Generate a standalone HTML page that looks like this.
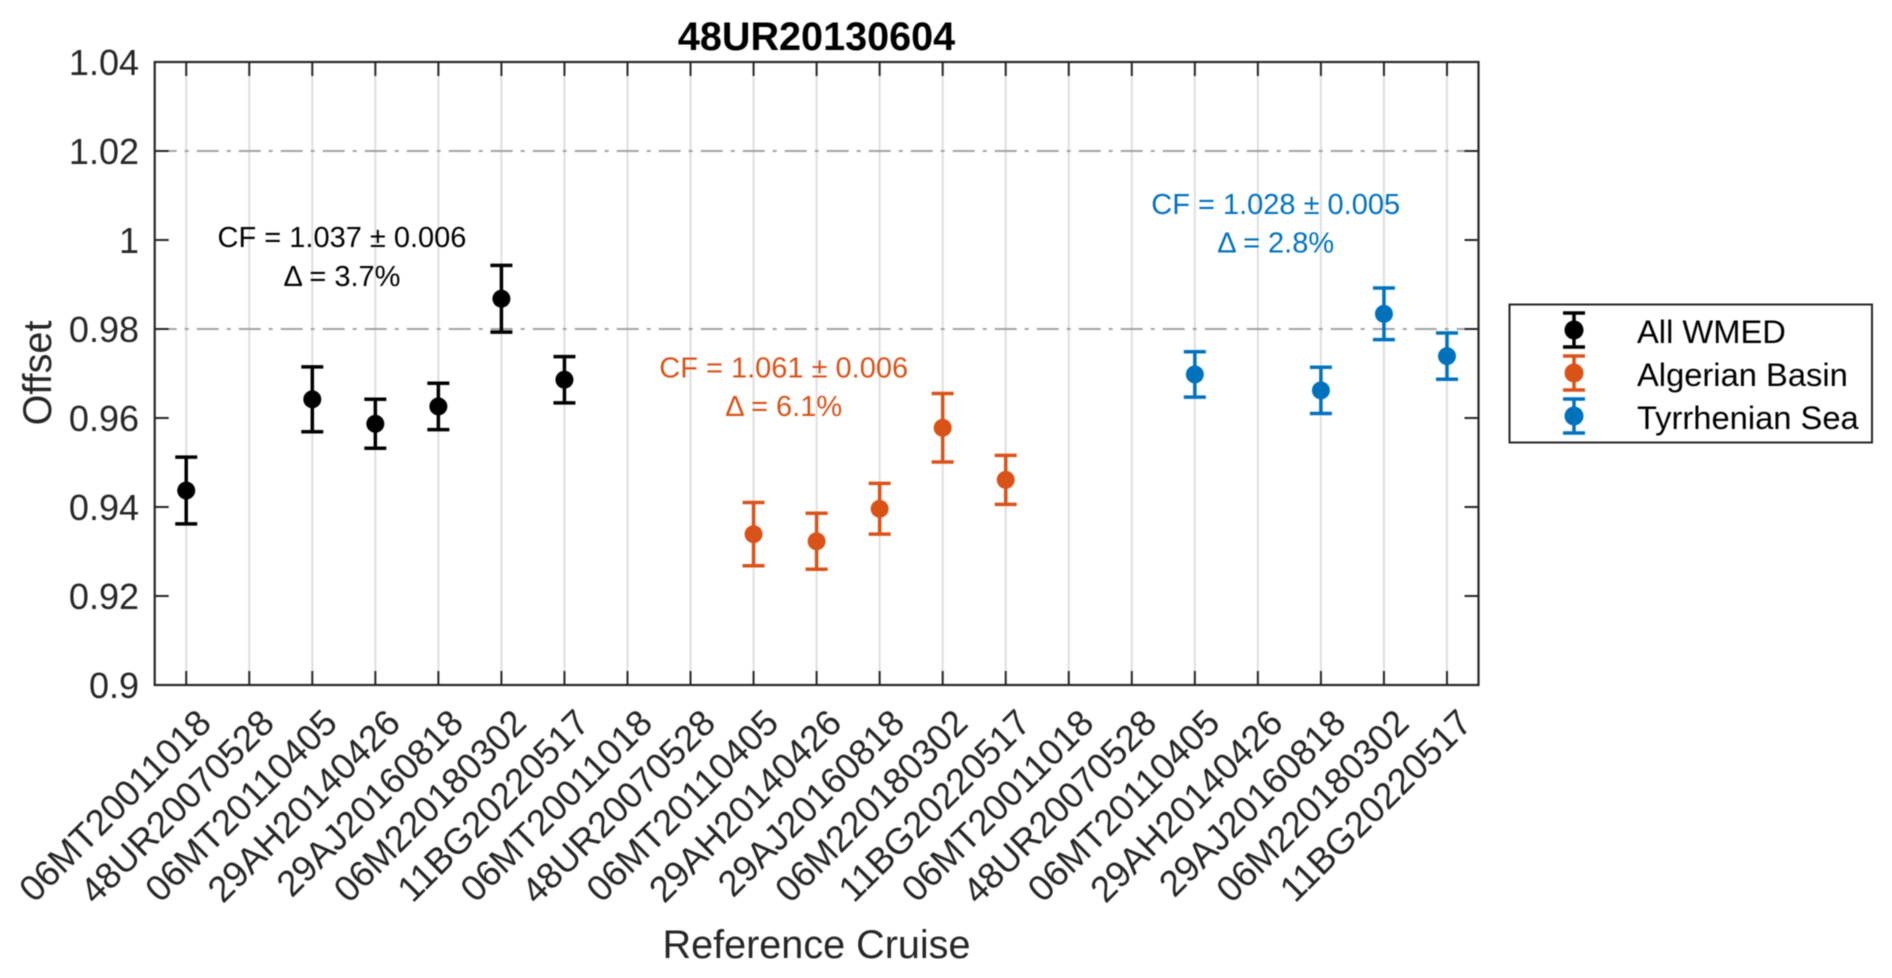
<!DOCTYPE html>
<html lang="en">
<head>
<meta charset="utf-8">
<title>48UR20130604</title>
<style>
html,body{margin:0;padding:0;background:#fff;width:1892px;height:978px;overflow:hidden}
svg{display:block;font-family:"Liberation Sans",Arial,sans-serif;filter:blur(0.5px)}
</style>
</head>
<body>
<svg id="chart" width="1892" height="978" viewBox="0 0 1892 978" xmlns="http://www.w3.org/2000/svg"></svg>
<script>
const categories = ["06MT20011018","48UR20070528","06MT20110405","29AH20140426","29AJ20160818","06M220180302","11BG20220517","06MT20011018","48UR20070528","06MT20110405","29AH20140426","29AJ20160818","06M220180302","11BG20220517","06MT20011018","48UR20070528","06MT20110405","29AH20140426","29AJ20160818","06M220180302","11BG20220517"];
const yTicks = [0.9,0.92,0.94,0.96,0.98,1,1.02,1.04];
const yTickLabels = ["0.9","0.92","0.94","0.96","0.98","1","1.02","1.04"];
const referenceLines = [0.98,1.02];
const allWmedValues = [0.9437,null,0.9642,0.9587,0.9626,0.9868,0.9686,null,null,null,null,null,null,null,null,null,null,null,null,null,null];
const allWmedErrors = [0.0075,null,0.0073,0.0055,0.0052,0.0075,0.0052,null,null,null,null,null,null,null,null,null,null,null,null,null,null];
const algerianValues = [null,null,null,null,null,null,null,null,null,0.9339,0.9323,0.9396,0.9578,0.9461,null,null,null,null,null,null,null];
const algerianErrors = [null,null,null,null,null,null,null,null,null,0.0071,0.0063,0.0057,0.0077,0.0055,null,null,null,null,null,null,null];
const tyrrhenianValues = [null,null,null,null,null,null,null,null,null,null,null,null,null,null,null,null,0.9698,null,0.9662,0.9834,0.9739];
const tyrrhenianErrors = [null,null,null,null,null,null,null,null,null,null,null,null,null,null,null,null,0.0051,null,0.0052,0.0058,0.0052];

const NS = "http://www.w3.org/2000/svg";
const svg = document.getElementById("chart");
const plot = {left:154.7, right:1478.5, top:62, bottom:685};
const yMin = 0.9, yMax = 1.04;
const INK = "#262626", ORANGE = "#D95319", BLUE = "#0072BD";

function xScale(i){ return plot.left + (i + 0.5) / categories.length * (plot.right - plot.left); }
function yScale(v){ return plot.bottom - (v - yMin) / (yMax - yMin) * (plot.bottom - plot.top); }

function mk(tag, attrs, parent){
  const el = document.createElementNS(NS, tag);
  for (const k in attrs) el.setAttribute(k, attrs[k]);
  (parent || svg).appendChild(el);
  return el;
}
function line(x1, y1, x2, y2, stroke, width, parent){
  return mk("line", {x1:x1, y1:y1, x2:x2, y2:y2, stroke:stroke, "stroke-width":width}, parent);
}
function label(str, x, y, size, fill, anchor, parent){
  const t = mk("text", {x:x, y:y, "font-size":size, fill:fill, "text-anchor":anchor}, parent);
  t.textContent = str;
  return t;
}

/* plot background */
const bg = mk("rect", {x:plot.left, y:plot.top, width:plot.right-plot.left, height:plot.bottom-plot.top, fill:"#fff"});



/* vertical grid */
categories.forEach(function(c, i){
  const g = line(xScale(i), plot.top, xScale(i), plot.bottom, "#dedede", 2);
  
  
});

/* reference lines */
referenceLines.forEach(function(v){
  const r = line(plot.left, yScale(v), plot.right, yScale(v), "#a2a2a2", 2);
  r.setAttribute("stroke-dasharray", "22 8 4 8");
  
  
});

/* axes frame */
const frame = mk("rect", {x:plot.left, y:plot.top, width:plot.right-plot.left, height:plot.bottom-plot.top, fill:"none", stroke:INK, "stroke-width":2.2});



/* ticks and tick labels */
const TICK = 14;
categories.forEach(function(c, i){
  const x = xScale(i);
  const t1 = line(x, plot.bottom, x, plot.bottom - TICK, INK, 2);
  
  
  const t2 = line(x, plot.top, x, plot.top + TICK, INK, 2);
  
  
  const lx = x + 27, ly = plot.bottom + 40;
  const tl = label(c, lx, ly, 36.5, INK, "end");
  tl.setAttribute("transform", "rotate(-45 " + lx + " " + ly + ")");
  
  
});
yTicks.forEach(function(v, i){
  const y = yScale(v);
  const t1 = line(plot.left, y, plot.left + TICK, y, INK, 2);
  
  
  const t2 = line(plot.right, y, plot.right - TICK, y, INK, 2);
  
  
  const tl = label(yTickLabels[i], 139, y + 13, 36, INK, "end");
  
  
});

/* series */
function drawSeries(values, errors, color, markName){
  values.forEach(function(v, i){
    if (v === null) return;
    const e = errors[i], x = xScale(i);
    const g = mk("g", {});
    
    
    line(x, yScale(v + e), x, yScale(v - e), color, 3.5, g);
    line(x - 11, yScale(v + e), x + 11, yScale(v + e), color, 3.5, g);
    line(x - 11, yScale(v - e), x + 11, yScale(v - e), color, 3.5, g);
    mk("circle", {cx:x, cy:yScale(v), r:9, fill:color}, g);
  });
}
drawSeries(allWmedValues, allWmedErrors, "#000000", "all-wmed-point");
drawSeries(algerianValues, algerianErrors, ORANGE, "algerian-basin-point");
drawSeries(tyrrhenianValues, tyrrhenianErrors, BLUE, "tyrrhenian-sea-point");

/* annotations */
const a1 = label("CF = 1.037 ± 0.006", 342, 247, 29, "#000", "middle");


const a2 = label("Δ = 3.7%", 342, 286, 29, "#000", "middle");


const a3 = label("CF = 1.061 ± 0.006", 783.7, 377.5, 29, ORANGE, "middle");


const a4 = label("Δ = 6.1%", 783.7, 416, 29, ORANGE, "middle");


const a5 = label("CF = 1.028 ± 0.005", 1275.7, 214, 29, BLUE, "middle");


const a6 = label("Δ = 2.8%", 1275.7, 252.7, 29, BLUE, "middle");



/* titles */
const title = label("48UR20130604", 816.5, 50, 39.6, "#000", "middle");
title.setAttribute("font-weight", "bold");


const xTitle = label("Reference Cruise", 816.5, 958, 39.6, INK, "middle");


const yTitle = label("Offset", 0, 0, 39.6, INK, "middle");
yTitle.setAttribute("transform", "translate(51 373) rotate(-90)");



/* legend */
const legend = mk("g", {});


mk("rect", {x:1509.5, y:304.5, width:362.5, height:138, fill:"#fff", stroke:INK, "stroke-width":2}, legend);
const legendNames = ["All WMED","Algerian Basin","Tyrrhenian Sea"];
const legendColors = ["#000000", ORANGE, BLUE];
const legendSlugs = ["legend-entry-all-wmed","legend-entry-algerian-basin","legend-entry-tyrrhenian-sea"];
legendNames.forEach(function(name, i){
  const cy = 330 + i * 43, color = legendColors[i], lx = 1574;
  const g = mk("g", {}, legend);
  
  
  line(lx, cy - 17, lx, cy + 17, color, 3.5, g);
  line(lx - 11, cy - 17, lx + 11, cy - 17, color, 3.5, g);
  line(lx - 11, cy + 17, lx + 11, cy + 17, color, 3.5, g);
  mk("circle", {cx:lx, cy:cy, r:9.5, fill:color}, g);
  label(name, 1637, cy + 13, 32.7, "#000", "start", g);
});
</script>
</body>
</html>
